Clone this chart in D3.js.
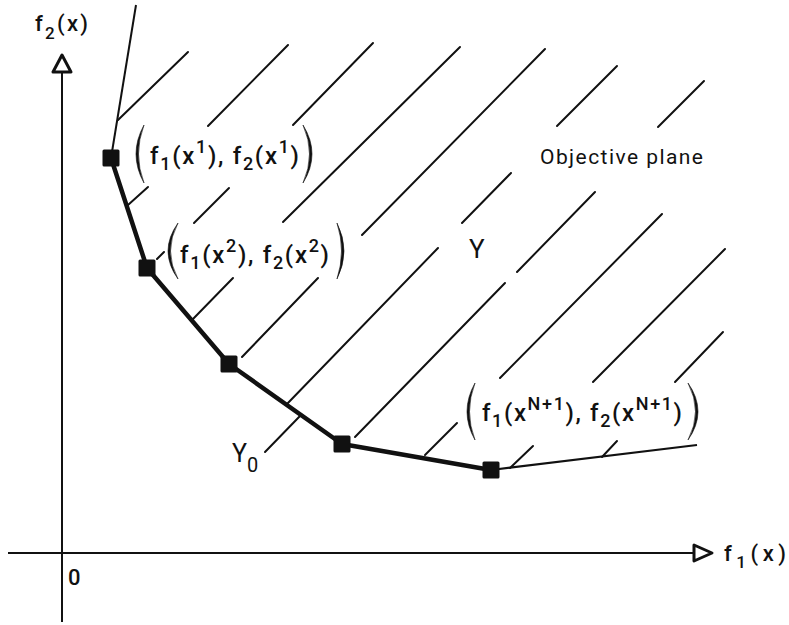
<!doctype html>
<html>
<head>
<meta charset="utf-8">
<script src="https://d3js.org/d3.v7.min.js"></script>
<style>
  body { margin: 0; background: #fff; }
  svg text { font-family: Roboto, "Liberation Sans", Arial, sans-serif; font-weight: 500; fill: #111; }
</style>
</head>
<body>
<div id="chart"></div>
<script>
(function () {
  "use strict";

  const width = 789, height = 625;

  // efficient points (f1, f2) in objective-plane units
  const frontierF1 = [4.9, 8.5, 16.7, 28.0, 42.9];
  const frontierF2 = [39.5, 28.5, 18.9, 10.9, 8.3];

  // rays leaving the first and last efficient point
  const upperRay = [[4.9, 39.5], [7.4, 54.8]];
  const rightRay = [[42.9, 8.3], [63.5, 10.8]];

  // hatching of the feasible region Y : [f1a, f2a, f1b, f2b]
  const hatches = [
    [5.6, 43.3, 12.6, 50.1], [14.6, 42.7, 22.6, 50.8], [23.1, 42.8, 31.1, 51.0],
    [22.1, 33.1, 39.8, 50.6], [30.0, 31.8, 48.3, 50.4], [49.5, 42.7, 55.5, 48.7],
    [59.6, 42.6, 64.2, 47.2], [40.0, 33.0, 44.9, 38.0], [45.5, 28.1, 53.3, 36.1],
    [29.3, 11.6, 44.3, 27.0], [43.8, 17.5, 60.0, 33.9], [53.1, 17.1, 66.3, 30.4],
    [61.3, 17.1, 66.1, 22.1], [6.6, 34.8, 8.6, 36.6], [13.2, 33.0, 16.7, 36.5],
    [13.0, 23.3, 17.1, 27.5], [18.0, 19.6, 25.6, 27.5], [22.5, 14.9, 37.6, 30.5],
    [20.3, 10.1, 23.8, 13.7], [36.3, 9.8, 39.5, 13.0], [44.8, 8.5, 47.1, 10.7],
    [54.0, 9.6, 55.5, 11.2], [9.5, 29.4, 10.2, 30.1]
  ];

  // axis extents (f1 axis, f2 axis)
  const f1Axis = [-5.4, 63.2, 65.0];
  const f2Axis = [-6.9, 48.1, 49.8];

  // point labels: superscript on x for each point
  const pointSup = ["1", "2", "N+1"];
  const labelPoint = [0, 1, 4];

  const x = d3.scaleLinear().domain([0, 65]).range([62, 712]);
  const y = d3.scaleLinear().domain([0, 50]).range([553, 53]);

  const svg = d3.select("#chart").append("svg")
    .attr("width", width)
    .attr("height", height);

  const ink = "#111";

  // hatch lines
  svg.append("g").selectAll("line")
    .data(hatches)
    .join("line")
    .attr("x1", d => x(d[0])).attr("y1", d => y(d[1]))
    .attr("x2", d => x(d[2])).attr("y2", d => y(d[3]))
    .attr("stroke", ink)
    .attr("stroke-width", 2)
    .attr("stroke-linecap", "round");

  // axes
  svg.append("line")
    .attr("x1", x(f1Axis[0])).attr("x2", x(f1Axis[1]))
    .attr("y1", y(0)).attr("y2", y(0))
    .attr("stroke", ink).attr("stroke-width", 2);
  svg.append("path")
    .attr("d", "M" + x(f1Axis[1]) + "," + (y(0) - 8) + "L" + x(f1Axis[2]) + "," + y(0) +
      "L" + x(f1Axis[1]) + "," + (y(0) + 8) + "Z")
    .attr("fill", "#fff").attr("stroke", ink).attr("stroke-width", 3)
    .attr("stroke-linejoin", "round");

  svg.append("line")
    .attr("x1", x(0)).attr("x2", x(0))
    .attr("y1", y(f2Axis[0])).attr("y2", y(f2Axis[1]))
    .attr("stroke", ink).attr("stroke-width", 2);
  svg.append("path")
    .attr("d", "M" + (x(0) - 9) + "," + y(f2Axis[1]) + "L" + x(0) + "," + y(f2Axis[2]) +
      "L" + (x(0) + 9) + "," + y(f2Axis[1]) + "Z")
    .attr("fill", "#fff").attr("stroke", ink).attr("stroke-width", 3)
    .attr("stroke-linejoin", "round");

  // boundary rays
  const line = d3.line().x(d => x(d[0])).y(d => y(d[1]));
  svg.append("path").attr("d", line(upperRay))
    .attr("fill", "none").attr("stroke", ink).attr("stroke-width", 2);
  svg.append("path").attr("d", line(rightRay))
    .attr("fill", "none").attr("stroke", ink).attr("stroke-width", 2.2);

  // efficient frontier Y0
  const pts = frontierF1.map((f, i) => [f, frontierF2[i]]);
  svg.append("path").attr("d", line(pts))
    .attr("fill", "none").attr("stroke", ink).attr("stroke-width", 4.5)
    .attr("stroke-linejoin", "round");

  svg.append("g").selectAll("rect")
    .data(pts)
    .join("rect")
    .attr("x", d => x(d[0]) - 8.5)
    .attr("y", d => y(d[1]) - 8.5)
    .attr("width", 17).attr("height", 17)
    .attr("rx", 1.5)
    .attr("fill", ink);

  // text with sub/superscripts
  function richText(g, px, py, parts, size, small, len) {
    const t = g.append("text").attr("x", px).attr("y", py)
      .style("font-size", size + "px");
    let shift = 0;
    parts.forEach(p => {
      const target = p.s === "sub" ? small.sub : p.s === "sup" ? small.sup : 0;
      t.append("tspan")
        .attr("dy", target - shift)
        .style("font-size", (p.s ? small.size : size) + "px")
        .text(p.t);
      shift = target;
    });
    if (len) t.attr("textLength", len).attr("lengthAdjust", "spacing");
    return t;
  }

  // big calligraphic parenthesis
  function paren(g, xEnd, yTop, yBot, xApex) {
    const mid = (yTop + yBot) / 2;
    const cOut = 2 * xApex - xEnd;
    const dir = xApex < xEnd ? 1 : -1;
    const cIn = cOut + dir * 5;
    g.append("path")
      .attr("d", "M" + xEnd + "," + yTop + "Q" + cOut + "," + mid + " " + xEnd + "," + yBot +
        "Q" + cIn + "," + mid + " " + xEnd + "," + yTop + "Z")
      .attr("fill", ink).attr("stroke", ink).attr("stroke-width", 0.6);
  }

  const smallStyle = { size: 18, sub: 6, sup: -11 };
  const labelGeom = [
    { dx: 39, dy: 6, len: 149, left: [144, 136], right: [303, 312], top: -33, bot: 25 },
    { dx: 33, dy: -5, len: 149, left: [178, 168], right: [337, 344], top: -45, bot: 11 },
    { dx: -9, dy: -49, len: 200, left: [475, 467], right: [688, 698], top: -87, bot: -30 }
  ];

  const labels = svg.append("g");
  labelPoint.forEach((pi, i) => {
    const g = labelGeom[i];
    const px = x(frontierF1[pi]), py = y(frontierF2[pi]);
    const sup = pointSup[i];
    richText(labels, px + g.dx, py + g.dy, [
      { t: "f" }, { t: "1", s: "sub" }, { t: "(x" }, { t: sup, s: "sup" }, { t: "), f" },
      { t: "2", s: "sub" }, { t: "(x" }, { t: sup, s: "sup" }, { t: ")" }
    ], 24, smallStyle, g.len);
    paren(labels, g.left[0], py + g.top, py + g.bot, g.left[1]);
    paren(labels, g.right[0], py + g.top, py + g.bot, g.right[1]);
  });

  // axis titles
  richText(svg, 35, 31, [{ t: "f" }, { t: "2", s: "sub" }, { t: "(x)" }], 22,
    { size: 17, sub: 8, sup: -9 }, 53);
  richText(svg, 724, 561, [{ t: "f" }, { t: "1", s: "sub" }, { t: "(x)" }], 22,
    { size: 17, sub: 7, sup: -9 }, 62);

  svg.append("text").attr("x", 68).attr("y", 585).style("font-size", "22px").text("0");

  svg.append("text").attr("x", 540).attr("y", 164).style("font-size", "21px")
    .style("font-weight", 400)
    .attr("textLength", 163).attr("lengthAdjust", "spacing").text("Objective plane");

  svg.append("text").attr("x", 469).attr("y", 258).style("font-size", "26px")
    .style("font-weight", 400).text("Y");

  richText(svg, 232, 462, [{ t: "Y" }, { t: "0", s: "sub" }], 25,
    { size: 20, sub: 10, sup: 0 }, null).style("font-weight", 400);
})();
</script>
</body>
</html>
